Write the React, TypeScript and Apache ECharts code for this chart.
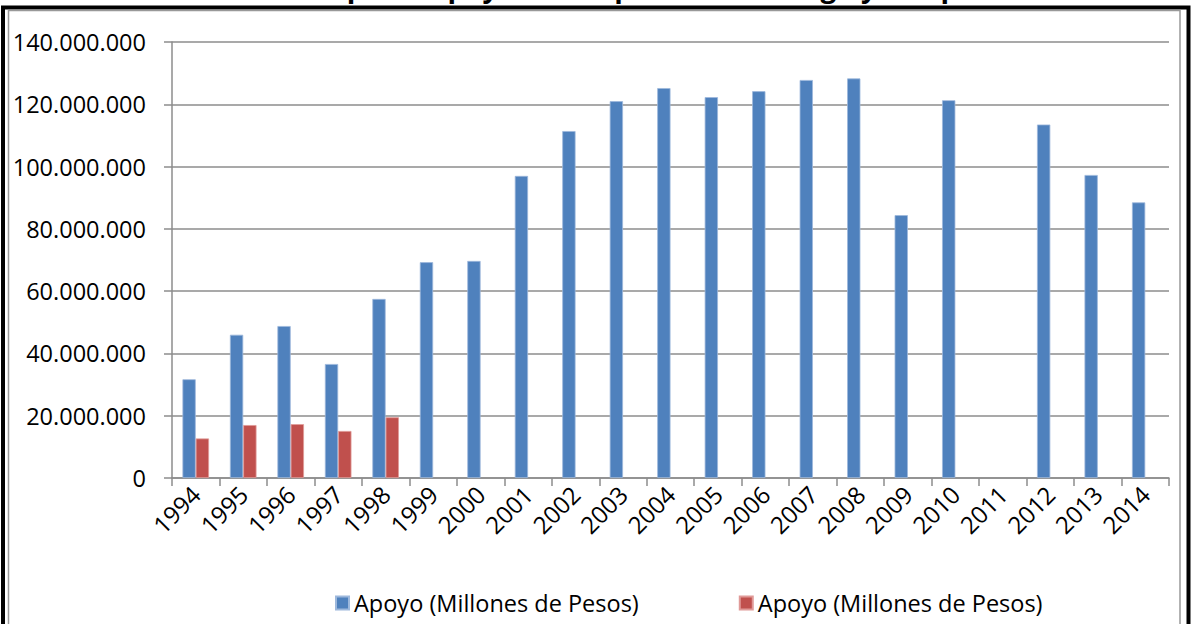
import React, { useEffect, useRef } from "react";
import * as echarts from "echarts";

const years = ["1994","1995","1996","1997","1998","1999","2000","2001","2002","2003","2004","2005","2006","2007","2008","2009","2010","2011","2012","2013","2014"];
const seriesA = [31700000,46000000,48800000,36600000,57500000,69300000,69700000,97000000,111400000,121000000,125200000,122300000,124200000,127800000,128300000,84400000,121300000,null,113500000,97300000,88500000];
const seriesB = [12700000,17000000,17300000,15100000,19500000,null,null,null,null,null,null,null,null,null,null,null,null,null,null,null,null];
const seriesNames = ["Apoyo (Millones de Pesos)", "Apoyo (Millones de Pesos) "];
const legendLabel = "Apoyo (Millones de Pesos)";
const titleText = "Gráfica 1.   Importe apoyado a superficies de riego y temporal";

const FONT = "Open Sans";

function fmt(v: number) {
  return String(Math.round(v)).replace(/\B(?=(\d{3})+(?!\d))/g, ".");
}

export default function App() {
  const ref = useRef<HTMLDivElement>(null);
  useEffect(() => {
    const chart = echarts.init(ref.current!, null, { renderer: "svg" });
    chart.setOption({
      animation: false,
      backgroundColor: "#ffffff",
      textStyle: { fontFamily: FONT },
      grid: { left: 172, right: 22, top: 42, bottom: 146, containLabel: false },
      legend: {
        bottom: 4,
        left: 330,
        itemWidth: 13,
        itemHeight: 13,
        itemGap: 100,
        icon: "rect",
        formatter: () => legendLabel,
        textStyle: { fontSize: 23.5, color: "#000", fontFamily: FONT },
        data: seriesNames,
      },
      xAxis: {
        type: "category",
        data: years,
        axisLine: { lineStyle: { color: "#8c8c8c", width: 1.5 } },
        axisTick: { show: true, alignWithLabel: false, length: 8, lineStyle: { color: "#8c8c8c", width: 1.5 } },
        axisLabel: { rotate: 45, fontSize: 24, color: "#000", margin: 12, interval: 0, fontFamily: FONT },
      },
      yAxis: {
        type: "value",
        min: 0,
        max: 140000000,
        interval: 20000000,
        axisLine: { show: true, lineStyle: { color: "#8c8c8c", width: 1.5 } },
        axisTick: { show: true, length: 8, lineStyle: { color: "#8c8c8c", width: 1.5 } },
        splitLine: { lineStyle: { color: "#8c8c8c", width: 1.5 } },
        axisLabel: { fontSize: 23.5, color: "#000", margin: 26, formatter: (v: number) => fmt(v), fontFamily: FONT },
      },
      series: [
        {
          name: seriesNames[0],
          type: "bar",
          data: seriesA,
          barGap: "0%",
          barCategoryGap: "44%",
          itemStyle: { color: "#4F81BD", borderColor: "#9db8dc", borderWidth: 0.8 },
        },
        {
          name: seriesNames[1],
          type: "bar",
          data: seriesB,
          barGap: "0%",
          barCategoryGap: "44%",
          itemStyle: { color: "#C0504D", borderColor: "#e09a98", borderWidth: 0.8 },
        },
      ],
      graphic: [
        {
          type: "text",
          x: 585,
          y: -28,
          style: { text: titleText, font: `bold 28px ${FONT}`, fill: "#000", align: "center", verticalAlign: "top" },
        },
        {
          type: "rect",
          shape: { x: 3, y: 7.5, width: 1185.5, height: 700 },
          style: { fill: "none", stroke: "#000", lineWidth: 4 },
          silent: true,
        },
        {
          type: "rect",
          shape: { x: 8.5, y: 10.5, width: 1171.5, height: 700 },
          style: { fill: "none", stroke: "#999", lineWidth: 1.5 },
          silent: true,
        },
      ],
    });
    return () => chart.dispose();
  }, []);
  return <div ref={ref} style={{ position: "absolute", left: 0, top: 0, width: 1191, height: 624 }} />;
}
